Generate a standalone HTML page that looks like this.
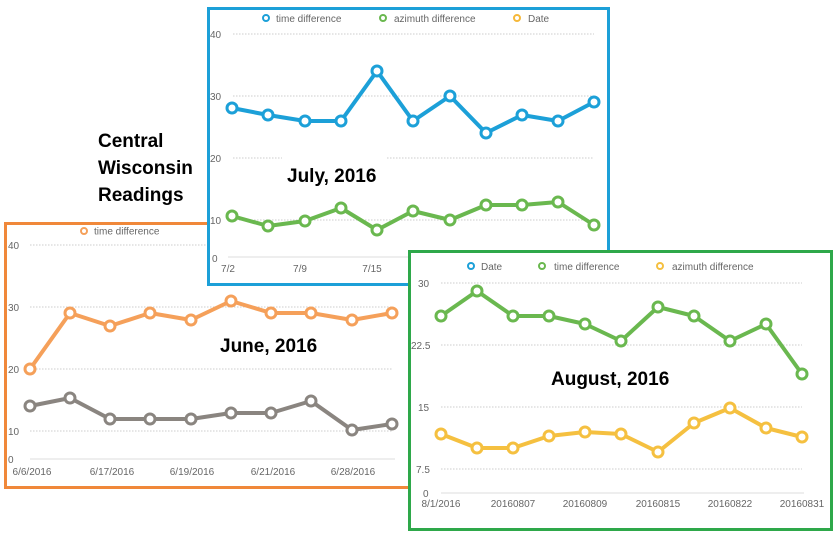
<!DOCTYPE html>
<html><head><meta charset="utf-8"><style>
html,body{margin:0;padding:0;background:#fff;}
svg{display:block;font-family:"Liberation Sans",sans-serif;}
.t{font-size:10px;fill:#666;}
.b{font-family:"Liberation Sans",sans-serif;font-weight:bold;font-size:19px;fill:#000;}
.g{stroke:#ccc;stroke-width:1;stroke-dasharray:1.5 1.5;}
</style></head><body>
<svg width="838" height="537" viewBox="0 0 838 537" xmlns="http://www.w3.org/2000/svg">
<rect width="838" height="537" fill="#fff"/>
<text class="b" x="98" y="147">Central</text>
<text class="b" x="98" y="174">Wisconsin</text>
<text class="b" x="98" y="201">Readings</text>

<!-- June -->
<rect x="5.5" y="223.5" width="420" height="264" fill="#fff" stroke="#f0883a" stroke-width="3"/>
<circle cx="84" cy="231" r="3" fill="#fff" stroke="#f5a05a" stroke-width="2"/>
<text class="t" x="94" y="234.5">time difference</text>
<g class="g"><line x1="30" y1="245" x2="392" y2="245"/><line x1="30" y1="307" x2="392" y2="307"/><line x1="30" y1="369" x2="392" y2="369"/><line x1="30" y1="431" x2="392" y2="431"/></g>
<line x1="30" y1="459" x2="395" y2="459" stroke="#ddd"/>
<g class="t"><text x="8" y="249">40</text><text x="8" y="311">30</text><text x="8" y="373">20</text><text x="8" y="435">10</text><text x="8" y="463">0</text></g>
<g class="t" text-anchor="middle"><text x="32" y="475">6/6/2016</text><text x="112" y="475">6/17/2016</text><text x="192" y="475">6/19/2016</text><text x="273" y="475">6/21/2016</text><text x="353" y="475">6/28/2016</text></g>
<g fill="none" stroke-width="4" stroke-linejoin="round">
<polyline stroke="#f5a05a" points="30,369 70,313 110,326 150,313 191,320 231,301 271,313 311,313 352,320 392,313"/>
<polyline stroke="#8a8580" points="30,406 70,398 110,419 150,419 191,419 231,413 271,413 311,401 352,430 392,424"/>
</g>
<g fill="#fff" stroke-width="3">
<g stroke="#f5a05a"><circle cx="30" cy="369" r="5"/><circle cx="70" cy="313" r="5"/><circle cx="110" cy="326" r="5"/><circle cx="150" cy="313" r="5"/><circle cx="191" cy="320" r="5"/><circle cx="231" cy="301" r="5"/><circle cx="271" cy="313" r="5"/><circle cx="311" cy="313" r="5"/><circle cx="352" cy="320" r="5"/><circle cx="392" cy="313" r="5"/></g>
<g stroke="#8a8580"><circle cx="30" cy="406" r="5"/><circle cx="70" cy="398" r="5"/><circle cx="110" cy="419" r="5"/><circle cx="150" cy="419" r="5"/><circle cx="191" cy="419" r="5"/><circle cx="231" cy="413" r="5"/><circle cx="271" cy="413" r="5"/><circle cx="311" cy="401" r="5"/><circle cx="352" cy="430" r="5"/><circle cx="392" cy="424" r="5"/></g>
</g>
<text class="b" x="220" y="352">June, 2016</text>

<!-- July -->
<rect x="208.5" y="8.5" width="400" height="276" fill="#fff" stroke="#1ca0d8" stroke-width="3"/>
<circle cx="266" cy="18" r="3" fill="#fff" stroke="#1ca0d8" stroke-width="2"/>
<text class="t" x="276" y="22">time difference</text>
<circle cx="383" cy="18" r="3" fill="#fff" stroke="#6ab84f" stroke-width="2"/>
<text class="t" x="394" y="22">azimuth difference</text>
<circle cx="517" cy="18" r="3" fill="#fff" stroke="#f5b83a" stroke-width="2"/>
<text class="t" x="528" y="22">Date</text>
<g class="g"><line x1="233" y1="34" x2="594" y2="34"/><line x1="233" y1="96" x2="594" y2="96"/><line x1="233" y1="158" x2="282" y2="158"/><line x1="387" y1="158" x2="594" y2="158"/><line x1="233" y1="220" x2="594" y2="220"/></g>
<line x1="228" y1="257" x2="606" y2="257" stroke="#ddd"/>
<g class="t"><text x="210" y="38">40</text><text x="210" y="100">30</text><text x="210" y="162">20</text><text x="210" y="224">10</text><text x="212" y="262">0</text></g>
<g class="t" text-anchor="middle"><text x="228" y="272">7/2</text><text x="300" y="272">7/9</text><text x="372" y="272">7/15</text></g>
<g fill="none" stroke-width="4" stroke-linejoin="round">
<polyline stroke="#1ca0d8" points="232,108 268,115 305,121 341,121 377,71 413,121 450,96 486,133 522,115 558,121 594,102"/>
<polyline stroke="#6ab84f" points="232,216 268,226 305,221 341,208 377,230 413,211 450,220 486,205 522,205 558,202 594,225"/>
</g>
<g fill="#fff" stroke-width="3">
<g stroke="#1ca0d8"><circle cx="232" cy="108" r="5"/><circle cx="268" cy="115" r="5"/><circle cx="305" cy="121" r="5"/><circle cx="341" cy="121" r="5"/><circle cx="377" cy="71" r="5"/><circle cx="413" cy="121" r="5"/><circle cx="450" cy="96" r="5"/><circle cx="486" cy="133" r="5"/><circle cx="522" cy="115" r="5"/><circle cx="558" cy="121" r="5"/><circle cx="594" cy="102" r="5"/></g>
<g stroke="#6ab84f"><circle cx="232" cy="216" r="5"/><circle cx="268" cy="226" r="5"/><circle cx="305" cy="221" r="5"/><circle cx="341" cy="208" r="5"/><circle cx="377" cy="230" r="5"/><circle cx="413" cy="211" r="5"/><circle cx="450" cy="220" r="5"/><circle cx="486" cy="205" r="5"/><circle cx="522" cy="205" r="5"/><circle cx="558" cy="202" r="5"/><circle cx="594" cy="225" r="5"/></g>
</g>
<text class="b" x="287" y="182">July, 2016</text>

<!-- August -->
<rect x="409.5" y="251.5" width="422" height="278" fill="#fff" stroke="#2ea84a" stroke-width="3"/>
<circle cx="471" cy="266" r="3" fill="#fff" stroke="#1ca0d8" stroke-width="2"/>
<text class="t" x="481" y="270">Date</text>
<circle cx="542" cy="266" r="3" fill="#fff" stroke="#6ab84f" stroke-width="2"/>
<text class="t" x="554" y="270">time difference</text>
<circle cx="660" cy="266" r="3" fill="#fff" stroke="#f5c040" stroke-width="2"/>
<text class="t" x="672" y="270">azimuth difference</text>
<g class="g"><line x1="441" y1="283" x2="802" y2="283"/><line x1="441" y1="345" x2="802" y2="345"/><line x1="441" y1="407" x2="802" y2="407"/><line x1="441" y1="469" x2="802" y2="469"/></g>
<line x1="441" y1="493" x2="804" y2="493" stroke="#ddd"/>
<g class="t"><text x="418" y="287">30</text><text x="411" y="349">22.5</text><text x="418" y="411">15</text><text x="416" y="473">7.5</text><text x="423" y="497">0</text></g>
<g class="t" text-anchor="middle"><text x="441" y="507">8/1/2016</text><text x="513" y="507">20160807</text><text x="585" y="507">20160809</text><text x="658" y="507">20160815</text><text x="730" y="507">20160822</text><text x="802" y="507">20160831</text></g>
<g fill="none" stroke-width="4" stroke-linejoin="round">
<polyline stroke="#6ab84f" points="441,316 477,291 513,316 549,316 585,324 621,341 658,307 694,316 730,341 766,324 802,374"/>
<polyline stroke="#f5c040" points="441,434 477,448 513,448 549,436 585,432 621,434 658,452 694,423 730,408 766,428 802,437"/>
</g>
<g fill="#fff" stroke-width="3">
<g stroke="#6ab84f"><circle cx="441" cy="316" r="5"/><circle cx="477" cy="291" r="5"/><circle cx="513" cy="316" r="5"/><circle cx="549" cy="316" r="5"/><circle cx="585" cy="324" r="5"/><circle cx="621" cy="341" r="5"/><circle cx="658" cy="307" r="5"/><circle cx="694" cy="316" r="5"/><circle cx="730" cy="341" r="5"/><circle cx="766" cy="324" r="5"/><circle cx="802" cy="374" r="5"/></g>
<g stroke="#f5c040"><circle cx="441" cy="434" r="5"/><circle cx="477" cy="448" r="5"/><circle cx="513" cy="448" r="5"/><circle cx="549" cy="436" r="5"/><circle cx="585" cy="432" r="5"/><circle cx="621" cy="434" r="5"/><circle cx="658" cy="452" r="5"/><circle cx="694" cy="423" r="5"/><circle cx="730" cy="408" r="5"/><circle cx="766" cy="428" r="5"/><circle cx="802" cy="437" r="5"/></g>
</g>
<text class="b" x="551" y="385">August, 2016</text>
</svg>
</body></html>
